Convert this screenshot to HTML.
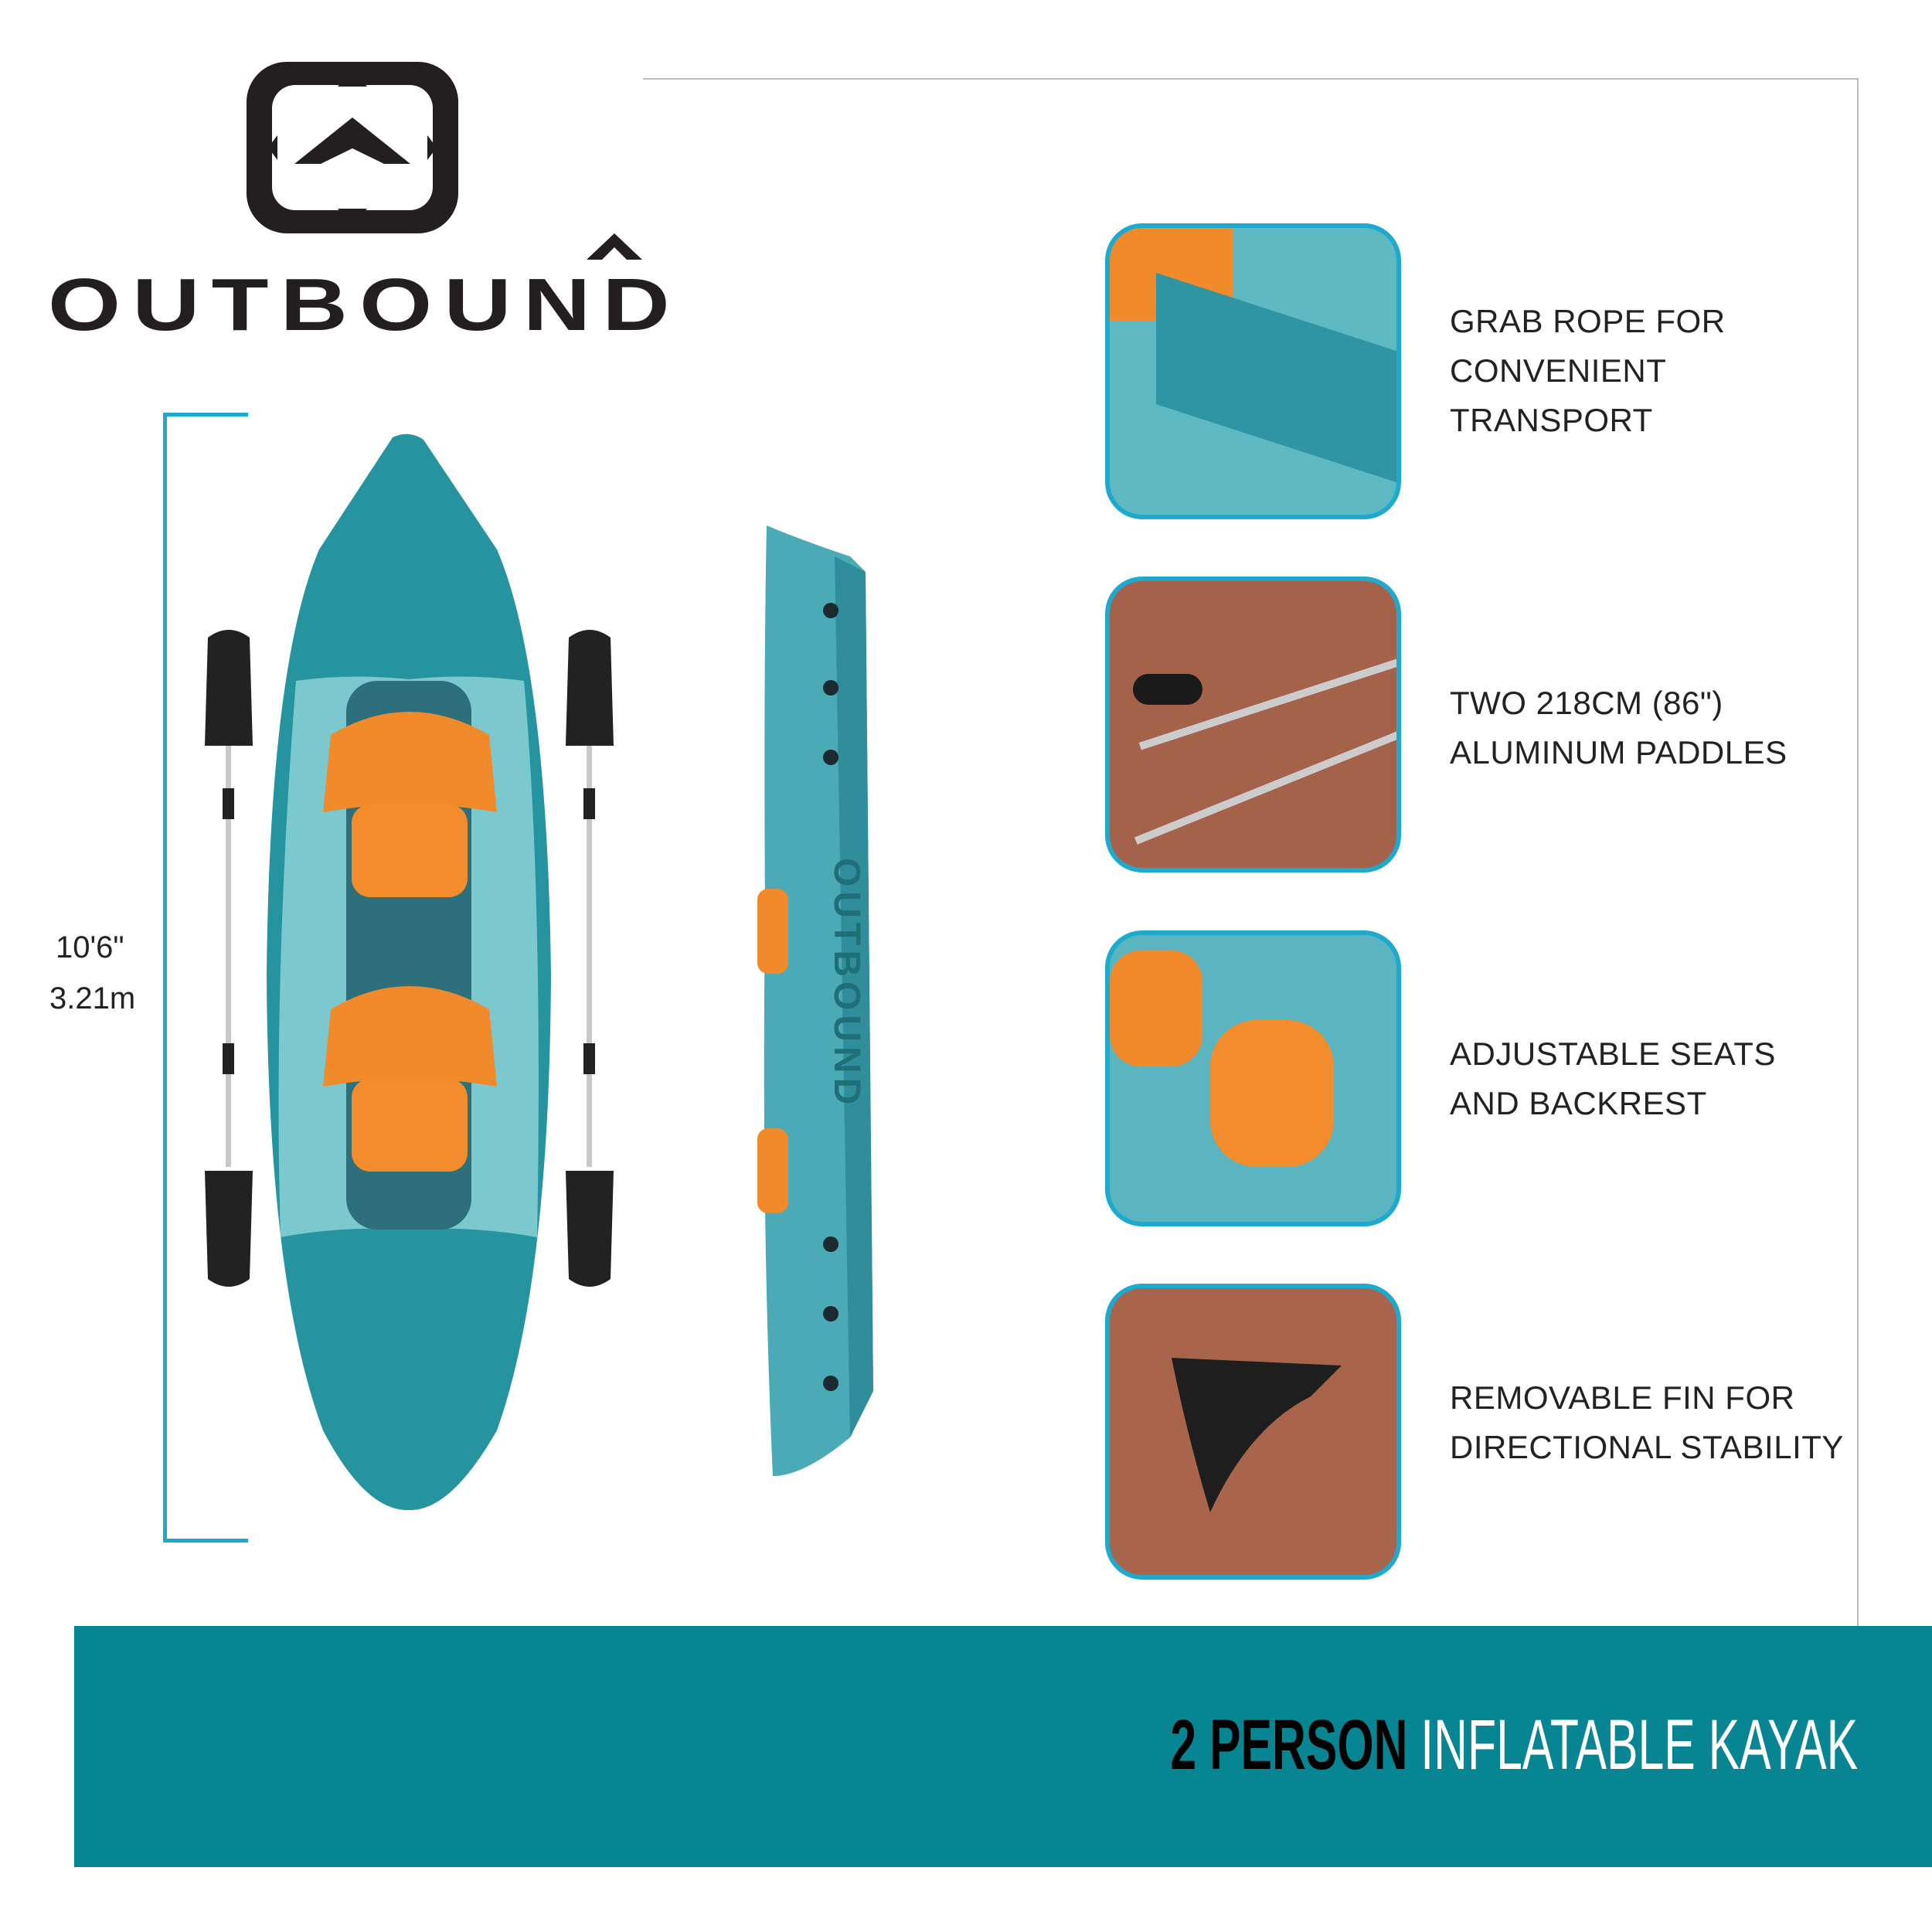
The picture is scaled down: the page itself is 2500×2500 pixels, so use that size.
<!DOCTYPE html>
<html><head><meta charset="utf-8"><style>
html,body{margin:0;padding:0;background:#fff}
body{width:2500px;height:2500px;position:relative;overflow:hidden;font-family:"Liberation Sans",sans-serif}
.a{position:absolute}
.box{position:absolute;left:1430px;width:371px;height:371px;border:6px solid #1ea9cf;border-radius:48px;overflow:hidden}
.ft{position:absolute;left:1876px;font-size:42px;line-height:64px;color:#222;letter-spacing:0.5px}
</style></head><body>
<div class="a" style="left:832px;top:101px;width:1573px;height:2px;background:#bbb"></div>
<div class="a" style="left:2403px;top:101px;width:2px;height:2005px;background:#bbb"></div>
<!-- logo -->
<div class="a" style="left:319px;top:80px;width:274px;height:222px;background:#231f20;border-radius:52px"></div>
<div class="a" style="left:352px;top:110px;width:208px;height:162px;background:#fff;border-radius:30px"></div>
<svg class="a" style="left:319px;top:80px" width="274" height="222"><polygon points="137,72 212,132 62,132" fill="#231f20"/><polygon points="137,112 178,132 96,132" fill="#fff"/><polygon points="137,10 156,32 118,32" fill="#231f20"/><polygon points="137,212 156,190 118,190" fill="#231f20"/><polygon points="28,111 40,95 40,127" fill="#231f20"/><polygon points="246,111 234,95 234,127" fill="#231f20"/></svg>
<div class="a" style="left:62px;top:340px;font-size:96px;font-weight:bold;letter-spacing:12px;color:#231f20;transform:scaleX(1.26);transform-origin:left">OUTBOUND</div>
<svg class="a" style="left:755px;top:300px" width="80" height="50"><polygon points="40,2 76,36 4,36" fill="#231f20"/><polygon points="40,20 56,36 24,36" fill="#fff"/></svg>
<!-- bracket -->
<div class="a" style="left:211px;top:534px;width:5px;height:1462px;background:#1ea9cf"></div>
<div class="a" style="left:211px;top:534px;width:110px;height:5px;background:#1ea9cf"></div>
<div class="a" style="left:211px;top:1991px;width:110px;height:5px;background:#1ea9cf"></div>
<div class="a" style="left:72px;top:1204px;font-size:40px;color:#222">10'6"</div>
<div class="a" style="left:64px;top:1270px;font-size:40px;color:#222">3.21m</div>
<!-- paddles -->
<svg class="a" style="left:250px;top:800px" width="560" height="880">
<rect x="42" y="150" width="7" height="560" fill="#c8c8c8"/><rect x="509" y="150" width="7" height="560" fill="#c8c8c8"/>
<rect x="38" y="220" width="15" height="40" fill="#222"/><rect x="38" y="550" width="15" height="40" fill="#222"/>
<rect x="505" y="220" width="15" height="40" fill="#222"/><rect x="505" y="550" width="15" height="40" fill="#222"/>
<path d="M15 165 h62 l-4 -140 q-27 -20 -54 0 z" fill="#222"/>
<path d="M15 715 h62 l-4 140 q-27 20 -54 0 z" fill="#222"/>
<path d="M482 165 h62 l-4 -140 q-27 -20 -54 0 z" fill="#222"/>
<path d="M482 715 h62 l-4 140 q-27 20 -54 0 z" fill="#222"/>
</svg>
<!-- top kayak -->
<svg class="a" style="left:343px;top:561px" width="372" height="1395">
<path d="M165 5 Q186 -5 205 8 L300 150 Q365 300 370 700 Q368 1100 300 1290 Q240 1395 186 1393 Q130 1395 75 1290 Q4 1100 2 700 Q6 300 70 150 Z" fill="#26949f"/>
<path d="M40 320 Q110 310 186 318 Q262 310 335 320 Q360 600 352 1040 Q270 1025 186 1030 Q100 1025 20 1040 Q10 700 40 320Z" fill="#7cc8cf"/>
<rect x="105" y="320" width="162" height="710" rx="40" fill="#2d6f7a"/>
<path d="M85 390 Q186 330 290 390 L300 490 Q186 470 75 490Z" fill="#f08a2a"/><rect x="112" y="480" width="150" height="120" rx="24" fill="#f28c2c"/>
<path d="M85 745 Q186 685 290 745 L300 845 Q186 825 75 845Z" fill="#f08a2a"/><rect x="112" y="835" width="150" height="120" rx="24" fill="#f28c2c"/>
</svg>
<!-- side kayak -->
<svg class="a" style="left:980px;top:680px" width="240" height="1240">
<path d="M12 0 Q60 20 120 40 L140 60 L150 1120 L120 1180 Q60 1230 20 1230 Q5 900 10 500 Q8 200 12 0Z" fill="#4aaab5"/>
<path d="M100 40 L140 60 L150 1120 L120 1180Z" fill="#2f8e9a"/>
<rect x="0" y="470" width="40" height="110" rx="14" fill="#f08a2a"/><rect x="0" y="780" width="40" height="110" rx="14" fill="#f08a2a"/>
<text x="100" y="430" transform="rotate(90 100 430)" font-family="Liberation Sans" font-size="48" font-weight="bold" fill="#1f6f78" letter-spacing="6">OUTBOUND</text>
<g fill="#1a2a2e"><circle cx="95" cy="110" r="10"/><circle cx="95" cy="210" r="10"/><circle cx="95" cy="300" r="10"/><circle cx="95" cy="930" r="10"/><circle cx="95" cy="1020" r="10"/><circle cx="95" cy="1110" r="10"/></g>
</svg>
<!-- feature boxes -->
<div class="box" style="top:289px;background:#5fb9c3"><div class="a" style="left:0;top:0;width:160px;height:120px;background:#f08a2a;border-radius:0 0 40px 0"></div><div class="a" style="left:60px;top:110px;width:320px;height:170px;background:#2f95a2;transform:skewY(18deg)"></div></div>
<div class="box" style="top:746px;background:#a5624a"><div class="a" style="left:30px;top:150px;width:380px;height:10px;background:#ccc;transform:rotate(-18deg)"></div><div class="a" style="left:20px;top:260px;width:380px;height:10px;background:#ccc;transform:rotate(-22deg)"></div><div class="a" style="left:30px;top:120px;width:90px;height:40px;background:#1a1a1a;border-radius:20px"></div></div>
<div class="box" style="top:1204px;background:#5ab5c0"><div class="a" style="left:0;top:20px;width:120px;height:150px;background:#f08a2a;border-radius:40px"></div><div class="a" style="left:130px;top:110px;width:160px;height:190px;background:#f28c2c;border-radius:60px"></div></div>
<div class="box" style="top:1661px;background:#a8654c"><svg class="a" style="left:60px;top:80px" width="260" height="220"><path d="M20 10 L240 20 L200 60 Q120 100 70 210 Q40 110 20 10Z" fill="#1e1e1e"/></svg></div>
<div class="ft" style="top:384px">GRAB ROPE FOR<br>CONVENIENT<br>TRANSPORT</div>
<div class="ft" style="top:878px">TWO 218CM (86")<br>ALUMINUM PADDLES</div>
<div class="ft" style="top:1332px">ADJUSTABLE SEATS<br>AND BACKREST</div>
<div class="ft" style="top:1777px">REMOVABLE FIN FOR<br>DIRECTIONAL STABILITY</div>
<!-- band -->
<div class="a" style="left:96px;top:2104px;width:2404px;height:312px;background:#078592"></div>
<div class="a" style="right:96px;top:2203px;font-size:92px;line-height:110px;color:#fff;white-space:nowrap;transform:scaleX(0.66);transform-origin:right"><b style="color:#000">2 PERSON</b> INFLATABLE KAYAK</div>
</body></html>
